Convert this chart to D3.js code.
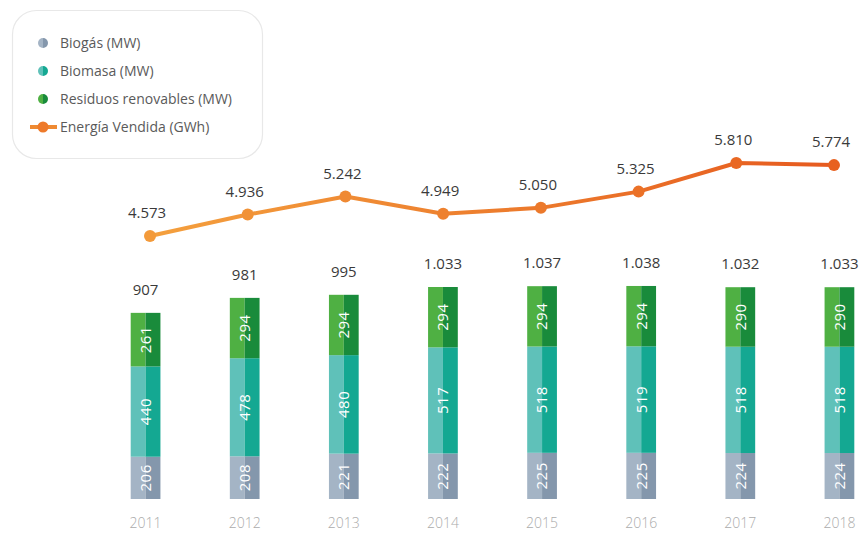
<!DOCTYPE html>
<html>
<head>
<meta charset="utf-8">
<script src="https://cdn.jsdelivr.net/npm/d3@7/dist/d3.min.js"></script>
<style>
  html, body { margin: 0; padding: 0; background: #fff; }
  svg { display: block; font-family: "Open Sans", "Noto Sans", sans-serif; }
</style>
</head>
<body>
<svg id="chart" width="863" height="536"></svg>
<script>
// Capacidad instalada (MW) y energía vendida (GWh), 2011–2018
const years = ["2011", "2012", "2013", "2014", "2015", "2016", "2017", "2018"];
const biogas = [206, 208, 221, 222, 225, 225, 224, 224];
const biomasa = [440, 478, 480, 517, 518, 519, 518, 518];
const residuos = [261, 294, 294, 294, 294, 294, 290, 290];
const totals = ["907", "981", "995", "1.033", "1.037", "1.038", "1.032", "1.033"];
const energia = [4573, 4936, 5242, 4949, 5050, 5325, 5810, 5774];
const energiaLabels = ["4.573", "4.936", "5.242", "4.949", "5.050", "5.325", "5.810", "5.774"];

const seriesNames = ["Biogás (MW)", "Biomasa (MW)", "Residuos renovables (MW)"];
const seriesColors = [
  { light: "#a4b4c5", dark: "#8497ac" },
  { light: "#5fc1b9", dark: "#14a892" },
  { light: "#4fb043", dark: "#198b3b" }
];

const svg = d3.select("#chart");

// Scales
const x = d3.scaleBand().domain(years).range([96, 889]).paddingInner(0.70).paddingOuter(0.35);
const yBar = d3.scaleLinear().domain([0, 1033]).range([499, 287]);
const xLine = d3.scalePoint().domain(years).range([150, 834]);
const yLine = d3.scaleLinear().domain([4573, 5810]).range([236, 163]);

// Stacked data
const rows = years.map((yr, i) => ({ year: yr, b0: biogas[i], b1: biomasa[i], b2: residuos[i] }));
const stack = d3.stack().keys(["b0", "b1", "b2"])(rows);

const bw = x.bandwidth();
const barsG = svg.append("g");
stack.forEach((layer, li) => {
  const g = barsG.append("g");
  layer.forEach((d, i) => {
    const x0 = x(years[i]);
    const top = yBar(d[1]);
    const h = yBar(d[0]) - yBar(d[1]);
    g.append("rect").attr("x", x0).attr("y", top).attr("width", bw / 2).attr("height", h)
      .attr("fill", seriesColors[li].light);
    g.append("rect").attr("x", x0 + bw / 2).attr("y", top).attr("width", bw / 2).attr("height", h)
      .attr("fill", seriesColors[li].dark);
    const cx = x0 + bw / 2, cy = top + h / 2;
    g.append("text")
      .attr("transform", `translate(${cx},${cy}) rotate(-90)`)
      .attr("text-anchor", "middle").attr("dy", "0.36em")
      .attr("fill", "#fff").attr("font-size", 15).attr("font-weight", 500)
      .attr("letter-spacing", 0.5)
      .text(d[1] - d[0]);
  });
});

// Totals above the bars
svg.append("g").selectAll("text").data(rows).join("text")
  .attr("x", d => x(d.year) + bw / 2)
  .attr("y", d => yBar(d.b0 + d.b1 + d.b2) - 18)
  .attr("text-anchor", "middle").attr("font-size", 15).attr("fill", "#3a3a3a")
  .text((d, i) => totals[i]);

// Year axis
const xAxis = d3.axisBottom(x).tickSize(0).tickPadding(0);
const axG = svg.append("g").attr("transform", "translate(0,515)").call(xAxis);
axG.select(".domain").remove();
axG.selectAll("text").attr("font-size", 14).attr("fill", "#ababab").attr("font-weight", 300)
  .attr("font-family", "'Open Sans', sans-serif").attr("dy", "0.9em");

// Energy line with gradient
const defs = svg.append("defs");
const grad = defs.append("linearGradient").attr("id", "lineGrad")
  .attr("gradientUnits", "userSpaceOnUse")
  .attr("x1", xLine(years[0])).attr("x2", xLine(years[years.length - 1]))
  .attr("y1", 0).attr("y2", 0);
grad.append("stop").attr("offset", "0%").attr("stop-color", "#f4a03e");
grad.append("stop").attr("offset", "55%").attr("stop-color", "#ec7a2c");
grad.append("stop").attr("offset", "100%").attr("stop-color", "#e65a1f");
const colorAt = d3.scaleLinear().domain([0, 0.55, 1]).range(["#f39a3a", "#ec7a2c", "#e8601f"]);

const line = d3.line().x((d, i) => xLine(years[i])).y(d => yLine(d));
svg.append("path").datum(energia).attr("d", line)
  .attr("fill", "none").attr("stroke", "url(#lineGrad)").attr("stroke-width", 4)
  .attr("stroke-linejoin", "round");

svg.append("g").selectAll("circle").data(energia).join("circle")
  .attr("cx", (d, i) => xLine(years[i])).attr("cy", d => yLine(d)).attr("r", 6)
  .attr("fill", (d, i) => colorAt(i / (years.length - 1)));

svg.append("g").selectAll("text").data(energia).join("text")
  .attr("x", (d, i) => xLine(years[i]) - 3).attr("y", d => yLine(d) - 18)
  .attr("text-anchor", "middle").attr("font-size", 15).attr("fill", "#3a3a3a")
  .text((d, i) => energiaLabels[i]);

// Legend
const lg = svg.append("g");
lg.append("rect").attr("x", 12.5).attr("y", 10.5).attr("width", 250).attr("height", 148)
  .attr("rx", 24).attr("fill", "#fff").attr("stroke", "#e8e8e8").attr("stroke-width", 1.2);
const legendY = [43, 71, 99];
const arcL = d3.arc().innerRadius(0).outerRadius(5).startAngle(Math.PI).endAngle(2 * Math.PI);
const arcR = d3.arc().innerRadius(0).outerRadius(5).startAngle(0).endAngle(Math.PI);
seriesNames.forEach((name, i) => {
  const g = lg.append("g").attr("transform", `translate(43,${legendY[i]})`);
  g.append("path").attr("d", arcL()).attr("fill", seriesColors[i].light);
  g.append("path").attr("d", arcR()).attr("fill", seriesColors[i].dark);
  lg.append("text").attr("x", 60).attr("y", legendY[i]).attr("dy", "0.35em")
    .attr("font-size", 14).attr("fill", "#5a5a5a").text(name);
});
lg.append("line").attr("x1", 30).attr("x2", 57).attr("y1", 127).attr("y2", 127)
  .attr("stroke", "#ef8a32").attr("stroke-width", 4);
lg.append("circle").attr("cx", 43).attr("cy", 127).attr("r", 5.5).attr("fill", "#ee7a2a");
lg.append("text").attr("x", 60).attr("y", 127).attr("dy", "0.35em")
  .attr("font-size", 14).attr("fill", "#5a5a5a").text("Energía Vendida (GWh)");
</script>
</body>
</html>
